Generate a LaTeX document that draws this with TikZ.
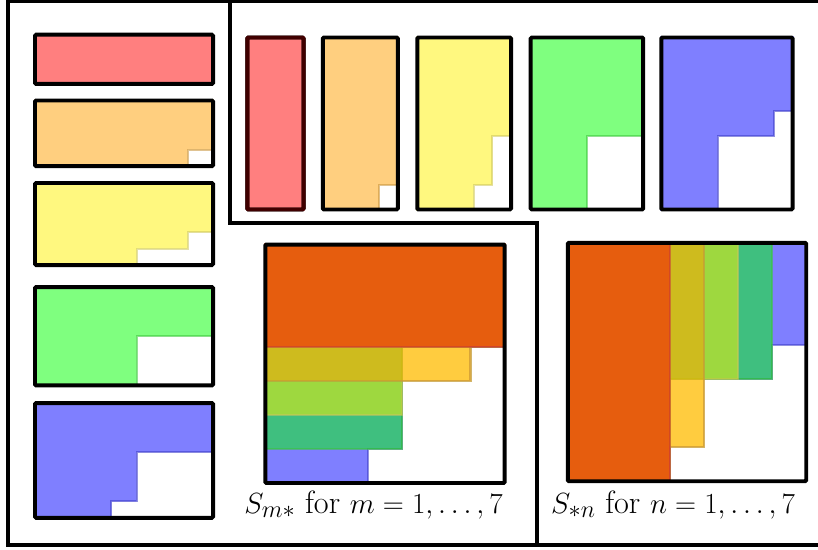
\documentclass[tikz,border=0pt]{standalone}
\usepackage{amsmath}
\usepackage{tikz}
\definecolor{orng}{RGB}{255,160,0}

% the five staircase pieces, in grid units (col,row), rows counted downwards
\newcommand{\shapeA}{(0,0) -- (7,0) -- (7,3) -- (0,3) -- cycle}
\newcommand{\shapeB}{(0,0) -- (7,0) -- (7,3) -- (6,3) -- (6,4) -- (0,4) -- cycle}
\newcommand{\shapeC}{(0,0) -- (7,0) -- (7,3) -- (6,3) -- (6,4) -- (4,4) -- (4,5) -- (0,5) -- cycle}
\newcommand{\shapeD}{(0,0) -- (7,0) -- (7,3) -- (4,3) -- (4,6) -- (0,6) -- cycle}
\newcommand{\shapeE}{(0,0) -- (7,0) -- (7,3) -- (4,3) -- (4,6) -- (3,6) -- (3,7) -- (0,7) -- cycle}

\begin{document}
\begin{tikzpicture}[x=0.03cm,y=-0.03cm,
  frame/.style={line width=3pt},
  box/.style={draw=black,line width=3.4pt,rounded corners=1pt},
  piece/.style={fill=#1,fill opacity=.5,draw=#1!55!gray,draw opacity=.55,line width=1.8pt},
  label/.style={anchor=base,font=\fontsize{27.5}{32}\selectfont}]
\useasboundingbox (0,0) rectangle (818,549);

% frames
\draw[frame] (818,1) -- (8,1) -- (8,545) -- (818,545);
\draw[frame] (230,1) -- (230,223) -- (537,223) -- (537,545);

% left column: S_{m*}
\foreach \c/\p/\n/\t in {red/\shapeA/3/34.7, orng/\shapeB/4/100.5, yellow/\shapeC/5/183,
    green/\shapeD/6/287, blue/\shapeE/7/403}
{
  \begin{scope}[shift={(35,\t)},x={(25.43,0)},y={(0,16.4)}]
    \filldraw[piece=\c] \p;
    \draw[box] (0,0) rectangle (7,\n);
  \end{scope}
}

% top row: S_{*n} (same pieces, transposed)
\foreach \c/\p/\n/\l in {red/\shapeA/3/247.3, orng/\shapeB/4/322.8, yellow/\shapeC/5/417.3,
    green/\shapeD/6/530.7, blue/\shapeE/7/661.3}
{
  \begin{scope}[shift={(\l,37.5)},x={(0cm,-0.7371cm)},y={(0.5625cm,0cm)}]
    \filldraw[piece=\c] \p;
    \draw[box] (0,0) rectangle (7,\n);
  \end{scope}
}
\begin{scope}[shift={(247.3,37.5)},x={(0cm,-0.7371cm)},y={(0.5625cm,0cm)}]
  \draw[box,draw=red!25!black] (0,0) rectangle (7,3);
\end{scope}

% overlays
\begin{scope}[shift={(265.3,244.5)},x={(34.2,0)},y={(0,34.07)}]
  \foreach \c/\p in {blue/\shapeE, green/\shapeD, yellow/\shapeC, orng/\shapeB, red/\shapeA}
    \filldraw[piece=\c] \p;
  \draw[box] (0,0) rectangle (7,7);
\end{scope}
\begin{scope}[shift={(567.8,242.8)},x={(0cm,-1.0218cm)},y={(1.0218cm,0cm)}]
  \foreach \c/\p in {blue/\shapeE, green/\shapeD, yellow/\shapeC, orng/\shapeB, red/\shapeA}
    \filldraw[piece=\c] \p;
  \draw[box] (0,0) rectangle (7,7);
\end{scope}

\node[label] (labm) at (373.5,513) {$S_{m*}$ for $m=1,\ldots,7$};
\node[label] (labn) at (673,513) {$S_{*n}$ for $n=1,\ldots,7$};
\end{tikzpicture}
\end{document}
